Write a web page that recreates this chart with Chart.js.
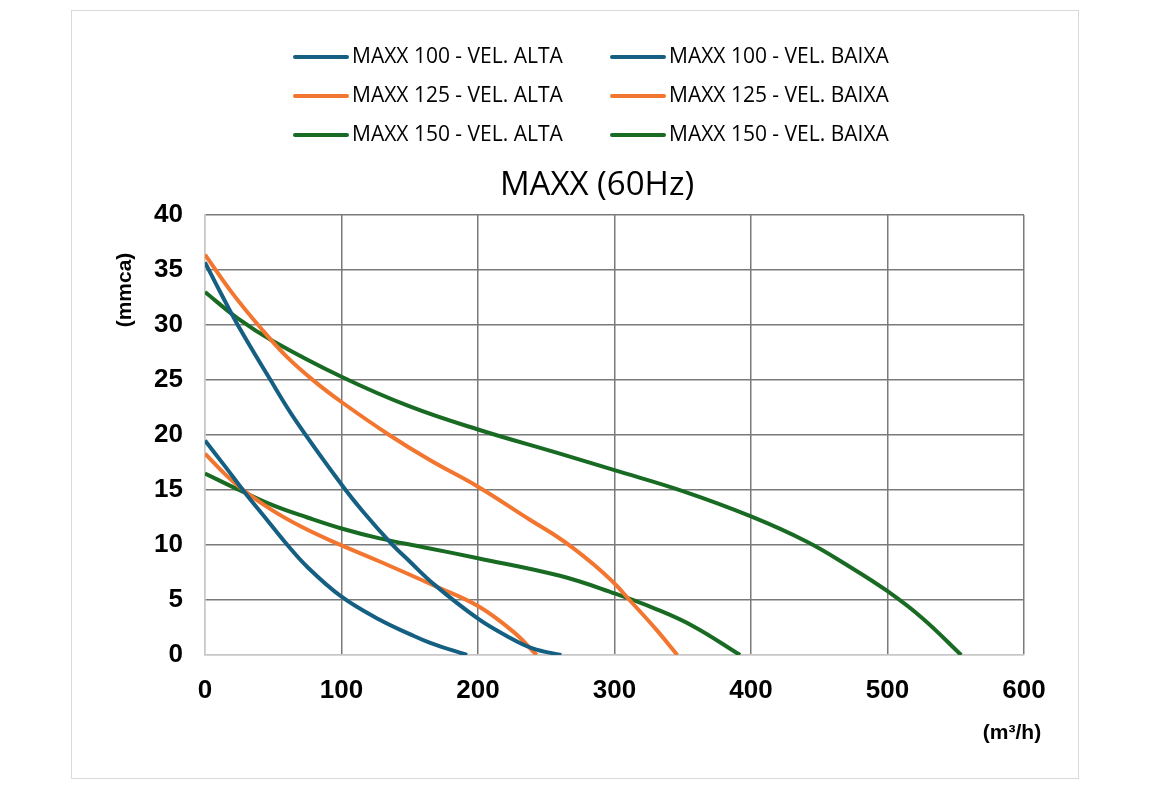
<!DOCTYPE html>
<html>
<head>
<meta charset="utf-8">
<script src="https://cdn.jsdelivr.net/npm/chart.js@4.4.1/dist/chart.umd.min.js"></script>
<style>
  html, body { margin: 0; padding: 0; background: #fff; }
  #frame { position: absolute; left: 71px; top: 10px; width: 1006px; height: 767px; border: 1px solid #d9d9d9; }
  #wrap { position: absolute; left: 0; top: 0; width: 1150px; height: 789px; }
</style>
</head>
<body>
<div id="frame"></div>
<div id="wrap"><canvas id="curves"></canvas></div>
<script>
// vazão (m3/h) e pressão (mmca)
var seriesNames = [
    'MAXX 100 - VEL. ALTA', 'MAXX 100 - VEL. BAIXA',
    'MAXX 125 - VEL. ALTA', 'MAXX 125 - VEL. BAIXA',
    'MAXX 150 - VEL. ALTA', 'MAXX 150 - VEL. BAIXA'
]
var seriesColors = ['#156082', '#156082', '#f2762f', '#f2762f', '#196b24', '#196b24']

var maxx100AltaQ = [0, 12, 24, 47, 66, 100, 116, 136, 150, 168, 200, 220, 240, 261]
var maxx100AltaH = [35.7, 32.8, 30, 25.2, 21.4, 15.5, 13, 10.2, 8.5, 6.4, 3.3, 1.8, 0.6, 0]

var maxx100BaixaQ = [0, 15, 29, 44, 59, 75, 100, 128, 150, 165, 192]
var maxx100BaixaH = [19.5, 17.1, 14.8, 12.5, 10.2, 8, 5.3, 3.2, 1.9, 1.1, 0]

var maxx125AltaQ = [0, 20, 41, 60, 80, 100, 135, 165, 200, 238, 255, 270, 285, 300, 311, 330, 346]
var maxx125AltaH = [36.4, 32.9, 29.7, 27.1, 24.9, 23, 20, 17.7, 15.3, 12.3, 11, 9.7, 8.2, 6.5, 5, 2.4, 0]

var maxx125BaixaQ = [0, 15, 29, 50, 70, 92, 128, 168, 200, 226, 243]
var maxx125BaixaH = [18.3, 16.4, 14.9, 13.1, 11.7, 10.4, 8.5, 6.3, 4.45, 2.1, 0]

var maxx150AltaQ = [0, 24, 49, 100, 150, 200, 260, 300, 350, 400, 441, 470, 500, 526, 554]
var maxx150AltaH = [33, 30.6, 28.6, 25.3, 22.6, 20.5, 18.3, 16.8, 14.9, 12.6, 10.3, 8.2, 5.8, 3.3, 0]

var maxx150BaixaQ = [0, 25, 50, 75, 100, 128, 160, 200, 260, 300, 330, 358, 392]
var maxx150BaixaH = [16.5, 15, 13.6, 12.5, 11.5, 10.6, 9.8, 8.8, 7.2, 5.6, 4.2, 2.6, 0]

var allQ = [maxx100AltaQ, maxx100BaixaQ, maxx125AltaQ, maxx125BaixaQ, maxx150AltaQ, maxx150BaixaQ]
var allH = [maxx100AltaH, maxx100BaixaH, maxx125AltaH, maxx125BaixaH, maxx150AltaH, maxx150BaixaH]

var chartTitle = 'MAXX (60Hz)'
var yTitle = '(mmca)'
var xTitle = '(m³/h)'

function pairs(qs, hs) {
    var out = []
    for (let i in qs) {
        out.push({x: qs[i], y: hs[i]})
    }
    return out
}

var datasets = []
for (let i in seriesNames) {
    datasets.push({
        label: seriesNames[i],
        data: pairs(allQ[i], allH[i]),
        borderColor: seriesColors[i],
        backgroundColor: seriesColors[i],
        borderWidth: 4,
        showLine: true,
        pointRadius: 0,
        tension: 0.4,
    })
}

// legenda em duas colunas, título e rótulos dos eixos
var decor = {
    id: 'decor',
    afterDraw(chart) {
        var ctx = chart.ctx
        var area = chart.chartArea
        ctx.save()
        ctx.textBaseline = 'middle'
        ctx.font = '21px "Open Sans"'
        ctx.lineCap = 'round'
        ctx.lineWidth = 4
        var cols = [295, 612]
        var rows = [57, 96, 135]
        chart.data.datasets.forEach(function (ds, i) {
            var x = cols[i % 2]
            var y = rows[Math.floor(i / 2)]
            ctx.strokeStyle = ds.borderColor
            ctx.beginPath()
            ctx.moveTo(x, y)
            ctx.lineTo(x + 52, y)
            ctx.stroke()
            ctx.fillStyle = '#000'
            ctx.textAlign = 'left'
            ctx.fillText(ds.label, x + 57, y)
        })

        ctx.font = '33px "Open Sans"'
        ctx.textAlign = 'center'
        ctx.fillText(chartTitle, 597, 186)

        ctx.font = 'bold 21px "Liberation Sans"'
        ctx.fillText(xTitle, 1012, 733)
        ctx.translate(125, area.top + 75)
        ctx.rotate(-Math.PI / 2)
        ctx.fillText(yTitle, 0, 0)
        ctx.restore()
    }
}

new Chart('curves', {
    type: 'scatter',
    data: {datasets: datasets},
    options: {
        responsive: true,
        maintainAspectRatio: false,
        animation: false,
        layout: {
            padding: {top: 215, left: 120, right: 126, bottom: 74}
        },
        plugins: {
            legend: {display: false},
            title: {display: false},
            tooltip: {enabled: false},
        },
        scales: {
            x: {
                type: 'linear',
                min: 0,
                max: 600,
                ticks: {
                    stepSize: 100,
                    padding: 20,
                    color: '#000',
                    font: {family: 'Liberation Sans', size: 26, weight: 'bold'},
                },
                grid: {
                    drawTicks: false,
                    lineWidth: 1.5,
                    color: ctx => ctx.tick && ctx.tick.value === 0 ? '#c8c8c8' : '#7a7a7a',
                },
                border: {color: '#c8c8c8', width: 1.5},
                afterFit(scale) { scale.height = 60 },
            },
            y: {
                min: 0,
                max: 40,
                ticks: {
                    stepSize: 5,
                    padding: 22,
                    color: '#000',
                    font: {family: 'Liberation Sans', size: 26, weight: 'bold'},
                },
                grid: {
                    drawTicks: false,
                    lineWidth: 1.5,
                    color: ctx => ctx.tick && ctx.tick.value === 0 ? '#c8c8c8' : '#7a7a7a',
                },
                border: {color: '#c8c8c8', width: 1.5},
                afterFit(scale) { scale.width = 85 },
            },
        },
    },
    plugins: [decor],
})
</script>
</body>
</html>
